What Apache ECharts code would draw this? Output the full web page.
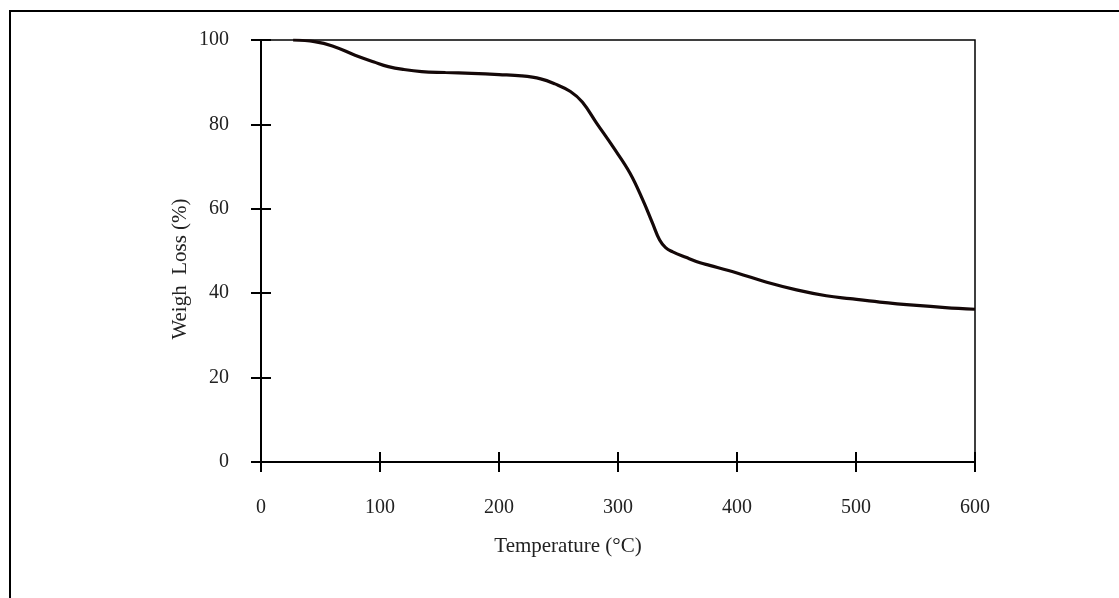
<!DOCTYPE html>
<html>
<head>
<meta charset="utf-8">
<script src="https://cdn.jsdelivr.net/npm/echarts@6/dist/echarts.min.js"></script>
<style>
  html, body { margin: 0; padding: 0; background: #fff; }
  #chart { width: 1119px; height: 598px; }
</style>
</head>
<body>
<div id="chart"></div>
<script>
// temperature (°C) and weight remaining (%)
const temperature = [27, 45, 60, 79, 95, 107, 120, 135, 155, 177, 200, 219, 235, 247, 260, 270, 282, 296, 310, 321, 329, 335, 340, 346, 357, 369, 377, 400, 425, 450, 475, 495, 520, 551, 575, 600]
const weight = [100, 99.6, 98.6, 96.4, 94.8, 93.7, 93.0, 92.5, 92.3, 92.1, 91.8, 91.5, 90.8, 89.6, 87.8, 85.3, 80.3, 74.6, 68.5, 62.0, 56.6, 52.6, 50.8, 49.8, 48.5, 47.2, 46.6, 44.8, 42.6, 40.8, 39.4, 38.7, 37.9, 37.1, 36.6, 36.2]

const xTicks = [0, 100, 200, 300, 400, 500, 600]
const yTicks = [0, 20, 40, 60, 80, 100]

const font = 'Liberation Serif'

const chart = echarts.init(document.getElementById('chart'))

const baseX = {
    type: 'value',
    min: xTicks[0],
    max: xTicks[xTicks.length - 1],
    interval: xTicks[1] - xTicks[0],
    splitLine: { show: false }
}
const baseY = {
    type: 'value',
    min: yTicks[0],
    max: yTicks[yTicks.length - 1],
    interval: yTicks[1] - yTicks[0],
    splitLine: { show: false }
}

chart.setOption({
    animation: false,
    grid: {
        left: 261,
        right: 144,
        top: 40,
        bottom: 136,
        show: true,
        borderColor: '#000',
        borderWidth: 1.5
    },
    xAxis: [
        {
            ...baseX,
            position: 'bottom',
            axisLine: { lineStyle: { color: '#000', width: 2 } },
            axisTick: { length: 10, lineStyle: { color: '#000', width: 2 } },
            axisLabel: { color: '#222', fontFamily: font, fontSize: 20, margin: 36 }
        },
        // inner half of the crossing ticks
        {
            ...baseX,
            position: 'bottom',
            axisLine: { show: false },
            axisTick: { inside: true, length: 10, lineStyle: { color: '#000', width: 2 } },
            axisLabel: { show: false }
        }
    ],
    yAxis: [
        {
            ...baseY,
            position: 'left',
            axisLine: { lineStyle: { color: '#000', width: 2 } },
            axisTick: { length: 10, lineStyle: { color: '#000', width: 2 } },
            axisLabel: { color: '#222', fontFamily: font, fontSize: 20, margin: 32 }
        },
        {
            ...baseY,
            position: 'left',
            axisLine: { show: false },
            axisTick: { inside: true, length: 10, lineStyle: { color: '#000', width: 2 } },
            axisLabel: { show: false }
        }
    ],
    graphic: [
        // page frame, only left and top edges are visible
        {
            type: 'rect',
            shape: { x: 10, y: 11, width: 1300, height: 800 },
            style: { fill: 'none', stroke: '#000', lineWidth: 2 },
            silent: true
        },
        {
            type: 'text',
            x: 568,
            y: 546,
            style: {
                text: 'Temperature (°C)',
                font: '21px "Liberation Serif"',
                fill: '#222',
                align: 'center',
                verticalAlign: 'middle'
            }
        },
        {
            type: 'text',
            x: 180,
            y: 269,
            rotation: Math.PI / 2,
            style: {
                text: 'Weigh  Loss (%)',
                font: '21px "Liberation Serif"',
                fill: '#222',
                align: 'center',
                verticalAlign: 'middle'
            }
        }
    ],
    series: [
        {
            type: 'line',
            xAxisIndex: 0,
            yAxisIndex: 0,
            data: temperature.map((t, i) => [t, weight[i]]),
            smooth: 0.4,
            showSymbol: false,
            lineStyle: { color: '#140808', width: 3.2 },
            z: 3
        }
    ]
})

window.addEventListener('resize', () => chart.resize())
</script>
</body>
</html>
